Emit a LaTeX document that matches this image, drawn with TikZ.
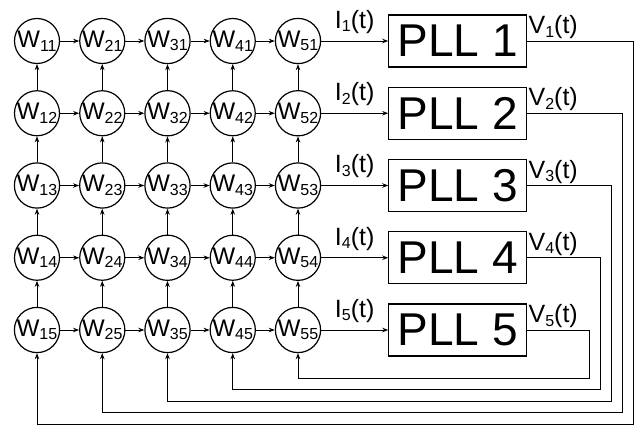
\documentclass[tikz,border=0pt]{standalone}
\usepackage{fontspec}
\setmainfont{Liberation Sans}
\usetikzlibrary{arrows.meta, positioning}

\newcommand{\idx}[1]{\raisebox{-3.5pt}{\fontsize{16}{16}\selectfont #1}}

\begin{document}
\begin{tikzpicture}[
    x=1pt, y=-1pt,
    node distance=67pt,
    cell/.style={draw, circle, line width=1.2pt, minimum size=45pt, inner sep=0pt,
                 font=\fontsize{24}{26}\selectfont},
    pll/.style={draw, line width=1.2pt, minimum width=138pt, minimum height=52pt,
                inner sep=0pt, font=\fontsize{46}{48}\selectfont},
    sig/.style={font=\fontsize{25}{27}\selectfont, inner sep=1pt},
    arr/.style={-{Stealth[length=6pt, width=4.5pt]}, line width=0.8pt},
]
    \useasboundingbox (0,0) rectangle (636,425);

    % Weight cells
    \foreach \i in {1,...,5}
      \foreach \j in {1,...,5}
        \node[cell] (w\i\j) at ({37+65.25*(\i-1)}, {41+72.25*(\j-1)}) {W\idx{\i\j}};

    % Links between cells
    \foreach \i [count=\n from 2] in {1,...,4}
      \foreach \j in {1,...,5}
        \draw[arr] (w\i\j) -- (w\n\j);
    \foreach \i in {1,...,5}
      \foreach \j [count=\n from 2] in {1,...,4}
        \draw[arr] (w\i\n) -- (w\i\j);

    % PLLs
    \foreach \j in {1,...,5} {
      \node[pll, right=of w5\j] (pll\j) {PLL \j};
      \draw[arr] (w5\j) -- node[sig, above=6pt] (i\j) {I\idx{\j}(t)} (pll\j);
      \node[sig, anchor=south west] (v\j) at ([yshift=1pt]pll\j.east) {V\idx{\j}(t)};
    }

    % Feedback
    \foreach \j in {1,...,5} {
      \coordinate (c\j) at ({633-11*(\j-1)}, {424-11.5*(\j-1)});
      \draw[arr] (pll\j.east) -| (c\j) -| (w\j5.south);
    }
\end{tikzpicture}
\end{document}
